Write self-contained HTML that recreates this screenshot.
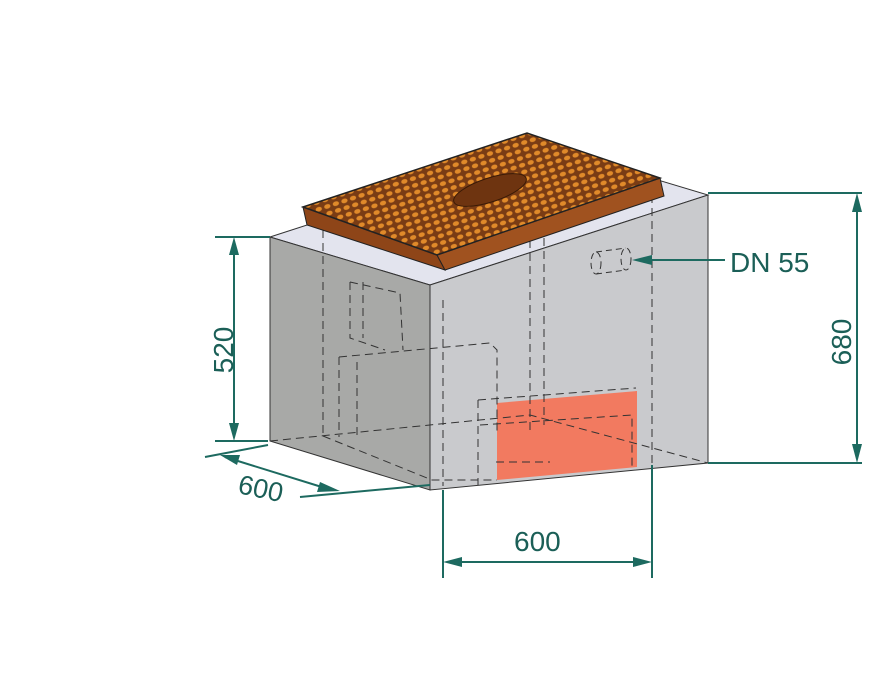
<!DOCTYPE html>
<html><head><style>
html,body{margin:0;padding:0;background:#fff;width:883px;height:683px;overflow:hidden}
svg{display:block}
text{font-family:"Liberation Sans",sans-serif;fill:#1b5f57}
</style></head><body>
<svg width="883" height="683" viewBox="0 0 883 683" xmlns="http://www.w3.org/2000/svg">
<defs>
<pattern id="holes" width="9" height="7" patternUnits="userSpaceOnUse" patternTransform="rotate(-18)">
<rect width="9" height="7" fill="#7a3c14"/>
<ellipse cx="4.5" cy="3.5" rx="3.2" ry="2.3" fill="#e08a2a"/>
</pattern>
</defs>
<polygon points="270,237 548,147 708,195 430,285" fill="#e3e4ee" stroke="#333" stroke-width="1"/>
<polygon points="270,237 430,285 430,490 270,441" fill="#a8a9a7" stroke="#333" stroke-width="1"/>
<polygon points="430,285 708,195 708,463 430,490" fill="#c9cacd" stroke="#333" stroke-width="1"/>
<polygon points="497,403 637,391 637,467 497,480" fill="#f27a60"/>
<g fill="none" stroke="#333" stroke-width="1" stroke-dasharray="8,5">
<polyline points="323,230 323,436"/>
<polyline points="544,225 544,425"/>
<polyline points="530,240 530,430"/>
<polyline points="652,195 652,465"/>
<polyline points="270,441 530,415 708,463"/>
<polyline points="323,436 432,480 497,480"/>
<polyline points="443,300 443,486"/>
<polyline points="339,357 339,437"/>
<polyline points="339,357 490,343 497,350 497,432"/>
<polyline points="357,362 357,440"/>
<polyline points="350,282 350,338 385,350"/>
<polyline points="350,282 400,293 403,350"/>
<polyline points="363,282 363,338"/>
<polyline points="478,400 636,388"/>
<polyline points="478,400 478,485"/>
<polyline points="480,425 632,415 632,470"/>
<polyline points="496,462 550,462"/>
</g>
<g fill="none" stroke="#333" stroke-width="1" stroke-dasharray="6,4">
<ellipse cx="596" cy="263" rx="5" ry="11"/>
<ellipse cx="626" cy="259" rx="5" ry="11"/>
<line x1="596" y1="252" x2="626" y2="248"/>
<line x1="596" y1="274" x2="626" y2="270"/>
</g>
<polygon points="303,207 437,255 445,270 307,225" fill="#8e4518" stroke="#222" stroke-width="1"/>
<polygon points="437,255 660,178 664,196 445,270" fill="#a0521f" stroke="#222" stroke-width="1"/>
<polygon points="303,207 527,133 660,178 437,255" fill="url(#holes)" stroke="#222" stroke-width="1.5"/>
<ellipse cx="490" cy="190" rx="38" ry="12" transform="rotate(-18 490 190)" fill="#6e3410" stroke="#3a1a06"/>
<g stroke="#1d6a60" stroke-width="2" fill="none">
<line x1="215" y1="237" x2="270" y2="237"/>
<line x1="215" y1="441" x2="268" y2="441"/>
<line x1="234" y1="250" x2="234" y2="428"/>
<line x1="708" y1="193" x2="862" y2="193"/>
<line x1="708" y1="463" x2="862" y2="463"/>
<line x1="857" y1="206" x2="857" y2="450"/>
<line x1="443" y1="490" x2="443" y2="578"/>
<line x1="652" y1="465" x2="652" y2="578"/>
<line x1="456" y1="562" x2="638" y2="562"/>
<line x1="205" y1="457" x2="268" y2="445"/>
<line x1="300" y1="497" x2="430" y2="485"/>
<line x1="225" y1="457" x2="325" y2="488"/>
<line x1="650" y1="260" x2="725" y2="260"/>
</g>
<g fill="#1d6a60">
<polygon points="234,237 229,255 239,255"/>
<polygon points="234,441 229,423 239,423"/>
<polygon points="857,193 852,212 862,212"/>
<polygon points="857,463 852,444 862,444"/>
<polygon points="443,562 462,557 462,567"/>
<polygon points="652,562 633,557 633,567"/>
<polygon points="220,455 240,455 237,465"/>
<polygon points="340,491 320,482 317,492"/>
<polygon points="632,260 652,255 652,265"/>
</g>
<text font-size="28" text-anchor="middle" transform="translate(233,350) rotate(-90)">520</text>
<text font-size="28" text-anchor="middle" transform="translate(851,342) rotate(-90)">680</text>
<text x="514" y="551" font-size="28">600</text>
<text x="238" y="498" font-size="27" transform="rotate(12 262 490)">600</text>
<text x="730" y="272" font-size="28">DN 55</text>
</svg>
</body></html>
